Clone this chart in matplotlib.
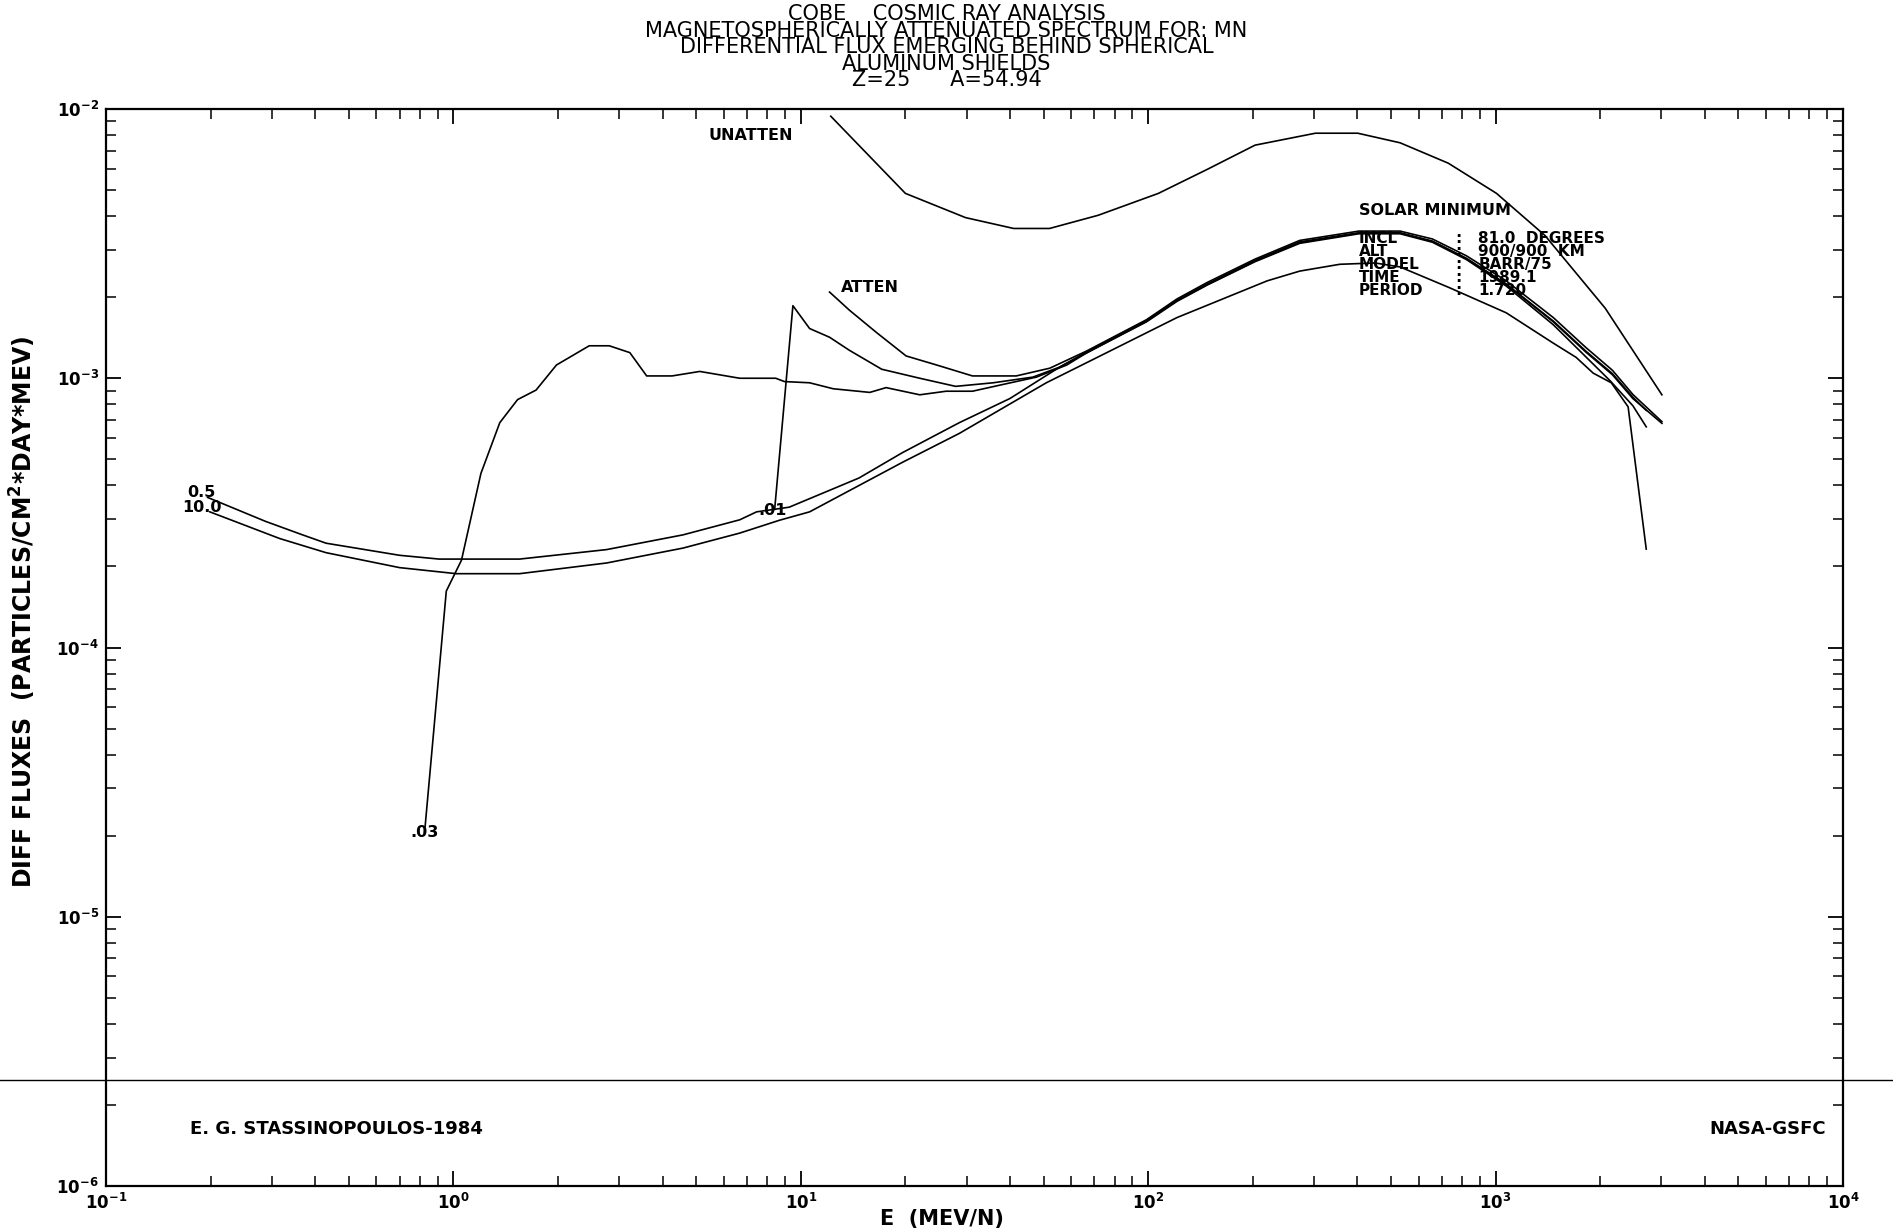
import matplotlib
matplotlib.use("Agg")
import matplotlib.pyplot as plt
from matplotlib.ticker import LogLocator, NullFormatter

# energy (MeV/n) and differential flux (particles/cm2*day*MeV)
e_unatten = [12.2, 20.0, 29.8, 41.0, 52.0, 71.8, 107, 148, 203, 303, 401, 531, 731, 1006, 1387, 2068, 3011]
f_unatten = [9.4e-3, 4.86e-3, 3.95e-3, 3.60e-3, 3.60e-3, 4.03e-3, 4.86e-3, 5.97e-3, 7.34e-3, 8.13e-3,
             8.13e-3, 7.49e-3, 6.29e-3, 4.86e-3, 3.39e-3, 1.82e-3, 8.68e-4]

e_atten = [12.1, 13.8, 16.5, 20.1, 24.6, 31.2, 41.7, 52.1, 66.3, 98.9, 121, 148, 203, 273, 404, 531,
           658, 824, 1073, 1466, 1820, 2170, 2485, 3011]
f_atten = [2.09e-3, 1.79e-3, 1.48e-3, 1.21e-3, 1.12e-3, 1.02e-3, 1.02e-3, 1.09e-3, 1.26e-3, 1.65e-3,
           1.97e-3, 2.27e-3, 2.77e-3, 3.25e-3, 3.52e-3, 3.52e-3, 3.29e-3, 2.85e-3, 2.30e-3, 1.68e-3,
           1.30e-3, 1.07e-3, 8.7e-4, 6.9e-4]

e_01 = [8.41, 9.49, 10.6, 12.1, 13.8, 17.1, 22.0, 27.9, 35.8, 46.6, 55.6, 66.3, 98.9, 121, 148, 203,
        273, 404, 531, 658, 824, 1073, 1466, 1820, 2170, 2485, 2714]
f_01 = [3.26e-4, 1.86e-3, 1.53e-3, 1.42e-3, 1.27e-3, 1.08e-3, 1.00e-3, 9.33e-4, 9.62e-4, 1.01e-3,
        1.10e-3, 1.25e-3, 1.64e-3, 1.95e-3, 2.24e-3, 2.74e-3, 3.21e-3, 3.47e-3, 3.47e-3, 3.23e-3,
        2.79e-3, 2.24e-3, 1.63e-3, 1.26e-3, 1.04e-3, 8.5e-4, 7.6e-4]

e_03 = [0.826, 0.954, 1.055, 1.20, 1.36, 1.53, 1.73, 1.98, 2.46, 2.81, 3.22, 3.60, 4.26, 5.12, 6.67,
        8.47, 8.97, 10.6, 12.4, 15.8, 17.6, 22.0, 26.2, 31.2, 37.3, 47.7, 58.3, 66.3, 98.9, 121, 148,
        203, 273, 404, 531, 658, 824, 1073, 1466, 1820, 2170, 2485, 3011]
f_03 = [2.05e-5, 1.62e-4, 2.11e-4, 4.43e-4, 6.84e-4, 8.33e-4, 9.04e-4, 1.12e-3, 1.32e-3, 1.32e-3,
        1.245e-3, 1.02e-3, 1.02e-3, 1.06e-3, 1.00e-3, 1.00e-3, 9.72e-4, 9.62e-4, 9.14e-4, 8.86e-4,
        9.23e-4, 8.68e-4, 8.95e-4, 8.95e-4, 9.42e-4, 1.01e-3, 1.12e-3, 1.24e-3, 1.63e-3, 1.94e-3,
        2.23e-3, 2.72e-3, 3.19e-3, 3.46e-3, 3.46e-3, 3.22e-3, 2.78e-3, 2.23e-3, 1.62e-3, 1.25e-3,
        1.03e-3, 8.4e-4, 6.8e-4]

e_05 = [0.196, 0.288, 0.368, 0.43, 0.70, 0.91, 1.55, 2.76, 4.58, 6.67, 7.46, 9.26, 14.7, 19.6, 28.6,
        40.0, 55.6, 66.3, 98.9, 121, 148, 203, 273, 404, 531, 658, 824, 1073, 1466, 1820, 2134, 2485, 2714]
f_05 = [3.61e-4, 2.94e-4, 2.62e-4, 2.44e-4, 2.20e-4, 2.13e-4, 2.13e-4, 2.31e-4, 2.62e-4, 2.98e-4,
        3.19e-4, 3.32e-4, 4.26e-4, 5.29e-4, 6.84e-4, 8.41e-4, 1.10e-3, 1.24e-3, 1.62e-3, 1.93e-3,
        2.22e-3, 2.71e-3, 3.17e-3, 3.44e-3, 3.44e-3, 3.20e-3, 2.76e-3, 2.20e-3, 1.58e-3, 1.20e-3,
        9.8e-4, 7.9e-4, 6.6e-4]

e_10 = [0.199, 0.316, 0.43, 0.70, 1.02, 1.55, 2.76, 4.58, 6.67, 8.69, 10.6, 19.6, 28.6, 50.9, 69.0,
        121, 220, 273, 356, 450, 531, 736, 1073, 1466, 1706, 1909, 2153, 2407, 2714]
f_10 = [3.19e-4, 2.54e-4, 2.25e-4, 1.98e-4, 1.88e-4, 1.88e-4, 2.06e-4, 2.34e-4, 2.66e-4, 2.97e-4,
        3.19e-4, 4.87e-4, 6.24e-4, 9.62e-4, 1.17e-3, 1.68e-3, 2.30e-3, 2.50e-3, 2.65e-3, 2.68e-3,
        2.59e-3, 2.17e-3, 1.75e-3, 1.35e-3, 1.195e-3, 1.045e-3, 9.62e-4, 7.83e-4, 2.32e-4]

title_lines = ["COBE    COSMIC RAY ANALYSIS",
               "MAGNETOSPHERICALLY ATTENUATED SPECTRUM FOR: MN",
               "DIFFERENTIAL FLUX EMERGING BEHIND SPHERICAL",
               "ALUMINUM SHIELDS",
               "Z=25      A=54.94"]
info_names = ["INCL", "ALT", "MODEL", "TIME", "PERIOD"]
info_values = ["81.0  DEGREES", "900/900  KM", "BARR/75", "1989.1", "1.720"]
cutoff_line = 2.48e-6

plt.rcParams['font.family'] = ['DejaVu Sans']
plt.rcParams['font.weight'] = 'bold'
W, H = 1893, 1231
fig = plt.figure(figsize=(W / 100, H / 100), dpi=100)
ax = fig.add_axes([106 / W, 1 - 1186 / H, (1843 - 106) / W, (1186 - 109) / H])

for e, f in [(e_unatten, f_unatten), (e_atten, f_atten), (e_01, f_01), (e_03, f_03),
             (e_05, f_05), (e_10, f_10)]:
    ax.plot(e, f, color="black", lw=1.2)

ax.set_xscale("log"); ax.set_yscale("log")
ax.set_xlim(0.1, 1e4); ax.set_ylim(1e-6, 1e-2)
for axis in (ax.xaxis, ax.yaxis):
    axis.set_major_locator(LogLocator(base=10, numticks=10))
    axis.set_minor_locator(LogLocator(base=10, subs=range(2, 10), numticks=50))
    axis.set_minor_formatter(NullFormatter())
ax.tick_params(which="both", direction="in", top=True, right=True, colors="black")
ax.tick_params(which="major", length=11, width=1.3, labelsize=12, pad=5)
ax.tick_params(which="minor", length=7, width=1.1)
for s in ax.spines.values():
    s.set_linewidth(1.6)

# horizontal rule across the whole sheet
ax.axhline(cutoff_line, xmin=-106 / 1737, xmax=(W - 106) / 1737, color="black", lw=1.0, clip_on=False)

# curve labels
kw = dict(transform=ax.transAxes, fontsize=11.5, va="center", ha="left")
ax.text(0.3468, 0.9754, "UNATTEN", **kw)
ax.text(0.4232, 0.8343, "ATTEN", **kw)
ax.text(0.0466, 0.6439, "0.5", **kw)
ax.text(0.0438, 0.6300, "10.0", **kw)
ax.text(0.1751, 0.3280, ".03", **kw)
ax.text(0.3753, 0.6271, ".01", **kw)

ax.text(0.7213, 0.906, "SOLAR MINIMUM", transform=ax.transAxes, fontsize=11.5, va="center")
for i, (n, v) in enumerate(zip(info_names, info_values)):
    y = 0.8802 - i * 0.0121
    ax.text(0.7213, y, n, transform=ax.transAxes, fontsize=11, va="center")
    ax.text(0.7769, y, ":", transform=ax.transAxes, fontsize=11, va="center")
    ax.text(0.7901, y, v, transform=ax.transAxes, fontsize=11, va="center")

ax.text(0.0486, 0.0526, "E. G. STASSINOPOULOS-1984", transform=ax.transAxes, fontsize=13, va="center")
ax.text(0.990, 0.0526, "NASA-GSFC", transform=ax.transAxes, fontsize=13, va="center", ha="right")

for i, line in enumerate(title_lines):
    fig.text(0.5, 1 - (14.5 + 16.4 * i) / H, line, ha="center", va="center", fontsize=15,
             fontweight="normal")

fig.text(23 / W, 1 - 612 / H, "DIFF FLUXES  (PARTICLES/CM$^2$*DAY*MEV)", rotation=90,
         ha="center", va="center", fontsize=17)
fig.text(942 / W, 1 - 1219 / H, "E  (MEV/N)", ha="center", va="center", fontsize=15)

fig.savefig("out.png", dpi=100, facecolor="white")
